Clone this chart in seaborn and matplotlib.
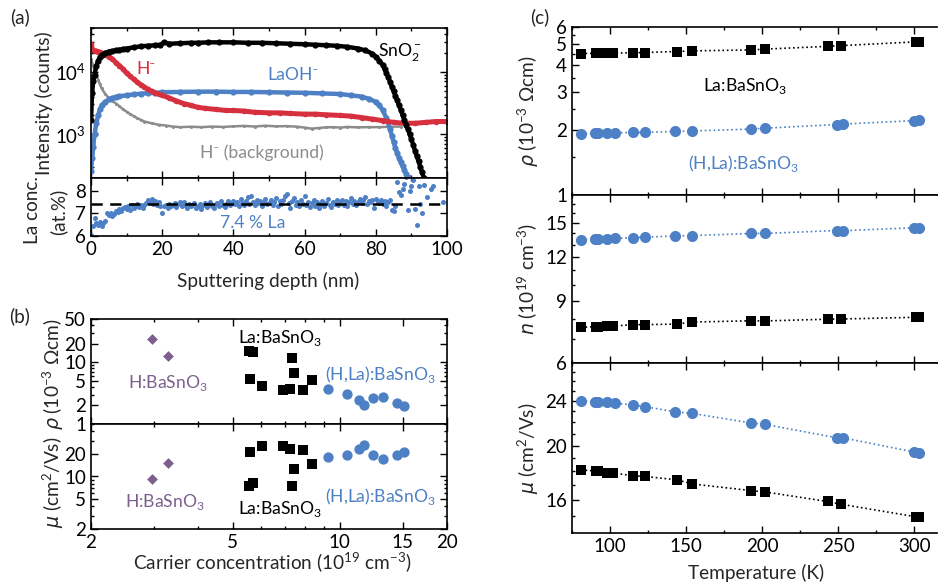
import numpy as np
import pandas as pd
import seaborn as sns
import matplotlib
matplotlib.use('Agg')
from matplotlib import pyplot as plt
from matplotlib import ticker

# %% Data
# (a) SIMS depth profiles, counts vs sputtering depth (nm)
sno2_depth = [0, 0.3, 0.6, 1, 1.5, 2, 2.5, 3, 4, 5, 6, 7, 8, 9, 10, 12, 14, 16, 18,
              19.5, 20.5, 22, 25, 28, 30, 33, 36, 40, 44, 48, 52, 56, 60, 63, 66, 69, 72, 75, 77, 79, 80, 81, 82,
              82.5, 83, 83.5, 84, 84.5, 85, 85.5, 86, 86.5, 87, 87.5, 88, 88.5, 89, 89.5, 90, 90.5, 91, 91.5,
              92, 92.5, 93, 93.5, 94]
sno2_counts = [1700, 4500, 7000, 9000, 12500, 15000, 17000, 18500, 20000, 21000, 21500, 22000, 22500, 23000,
               23500, 24500, 25500, 26000, 26500,
               27000, 29500, 28000, 28500, 29000, 29000, 29500, 29500, 29500, 29000, 29000, 28500, 28000, 27500,
               27000, 26500, 26000, 25000, 23500, 22000, 19500, 17400, 15000, 12600,
               11000, 9500, 8100, 6900, 5800, 4900, 4100, 3500, 2900, 2450, 2050, 1700, 1420, 1200, 1010, 830,
               680, 550, 450, 370, 300, 245, 200, 165]

h_depth = [0, 0.5, 1, 1.5, 2, 2.5, 3, 4, 5, 6, 7, 8, 9, 10, 11, 12, 13, 14, 15, 16, 17, 18, 19, 20,
           22, 24, 26, 28, 30, 32, 35, 38, 40, 43, 46, 50, 53, 56, 60, 63, 66, 70, 73, 76, 79, 82, 85, 88,
           91, 94, 97, 100]
h_counts = [28000, 22000, 21500, 21500, 21000, 20500, 20000, 18500, 17500, 16000, 14000, 12500, 11000, 9500,
            8500, 7600, 6800, 6200, 5700, 5200, 4900, 4600, 4400, 4200,
            3800, 3400, 3100, 2900, 2700, 2600, 2500, 2400, 2400, 2350, 2250, 2200, 2200, 2150, 2100, 2100,
            2050, 2000, 1950, 1850, 1750, 1650, 1550, 1500, 1500, 1550, 1600, 1600]

laoh_depth = [0, 0.3, 0.6, 1, 1.5, 2, 2.5, 3, 4, 5, 6, 7, 8, 10, 12, 14, 16, 18, 20,
              25, 30, 35, 40, 45, 50, 55, 60, 65, 70, 73, 76, 78, 80, 81, 82, 83, 84,
              84.5, 85, 85.5, 86, 86.5, 87, 87.5, 88, 88.5, 89, 89.5]
laoh_counts = [260, 420, 620, 1000, 1500, 2000, 2500, 2900, 3300, 3600, 3800, 3950, 4050, 4200, 4350, 4450,
               4550, 4600, 4700,
               4750, 4800, 4800, 4750, 4750, 4700, 4650, 4600, 4500, 4400, 4200, 4000, 3700, 3300, 2900, 2400,
               1800, 1200,
               950, 750, 600, 500, 420, 360, 310, 270, 235, 205, 180]

bg_depth = [0, 0.5, 1, 1.5, 2, 2.5, 3, 4, 5, 6, 7, 8, 9, 10, 11, 12, 13, 14, 15, 17, 19, 21, 23, 25,
            28, 31, 34, 37, 40, 43, 46, 49, 52, 55, 58, 60, 62, 64, 66, 68, 70, 72, 75, 78, 81, 84, 87]
bg_counts = [16000, 13000, 10500, 8800, 7500, 6300, 5400, 4400, 3800, 3400, 3100, 2800, 2500, 2300, 2100,
             1950, 1800, 1700, 1600, 1500, 1420, 1380, 1330, 1300,
             1320, 1300, 1330, 1310, 1340, 1360, 1330, 1370, 1340, 1350, 1320, 1280, 1230, 1260, 1290, 1300,
             1280, 1310, 1290, 1300, 1300, 1320, 1330]

# La concentration (at.%), 0.5 nm steps from 0 to 84.5 nm, then the scattered tail
la_conc = [6.05, 6.42, 6.78, 6.55, 6.48, 6.62, 6.45, 6.58, 6.65, 7.0, 6.92, 7.02, 6.88, 6.95, 7.12, 7.05, 7.18, 7.1, 7.22, 7.28,
           7.2, 7.3, 7.15, 7.35, 7.25, 7.32, 7.42, 7.28, 7.38, 7.22, 7.35, 7.45, 7.58, 7.5, 7.62, 7.4, 7.55, 7.35, 7.48, 7.3,
           7.02, 7.32, 7.38, 7.25, 7.42, 7.3, 7.35, 7.45, 7.28, 7.4, 7.48, 7.33, 7.5, 7.38, 7.25, 7.42, 7.3, 7.36, 7.47, 7.22,
           7.3, 7.4, 7.2, 7.35, 7.45, 7.28, 7.38, 7.5, 7.32, 7.25, 7.4, 7.46, 7.3, 7.55, 7.38, 7.28, 7.42, 7.52, 7.35, 7.45,
           7.55, 7.4, 7.48, 7.3, 7.62, 7.45, 7.38, 7.55, 7.7, 7.42, 7.74, 7.5, 7.35, 7.6, 7.45, 7.52, 7.3, 7.48, 7.62, 7.4,
           7.45, 7.58, 7.35, 7.5, 7.65, 7.3, 7.52, 7.42, 7.6, 7.78, 7.86, 7.45, 7.25, 7.55, 7.68, 7.38, 7.5, 7.3, 7.6, 7.42,
           7.74, 7.35, 7.5, 7.28, 7.45, 7.6, 7.32, 7.48, 7.25, 7.4, 7.55, 7.3, 7.45, 7.62, 7.38, 7.28, 7.5, 7.42, 7.58, 7.35,
           7.45, 7.6, 7.38, 7.52, 7.3, 7.48, 7.65, 7.42, 7.55, 7.35, 7.5, 7.62, 7.45, 7.58, 7.7, 7.4, 7.52, 7.48, 7.6, 7.22,
           7.62, 7.5, 7.45, 7.58, 7.4, 7.55, 7.3, 7.48, 7.6, 7.15]
la_depth = list(np.arange(0, 85, 0.5))
la_tail_depth = [85, 85.5, 86, 86.5, 87, 87.5, 88, 88.5, 89, 89.5, 90, 90.5, 91, 91.5, 92, 92.5, 93, 93.5,
                 94.5, 95.5, 96, 99]
la_tail_conc = [7.12, 7.3, 8.36, 7.95, 7.8, 8.07, 8.3, 8.58, 7.13, 8.0, 8.2, 8.45, 7.2, 6.48, 8.2, 7.42, 7.0,
                8.25, 7.7, 8.07, 8.2, 7.49]
la_mean = 7.4

# (b) resistivity (1e-3 Ohm cm) and mobility (cm2/Vs) vs carrier concentration (1e19 cm-3)
h_n = [2.96, 3.30]
h_rho = [23.8, 12.7]
h_mu = [9.2, 15.3]
la_n = [5.57, 5.69, 5.60, 6.03, 6.91, 7.24, 7.34, 7.42, 7.88, 8.34]
la_rho = [15.3, 14.4, 5.4, 4.09, 3.61, 3.7, 11.5, 6.78, 3.52, 5.13]
la_mu = [7.55, 8.1, 21.0, 25.7, 25.5, 23.4, 7.55, 12.6, 22.7, 14.7]
hla_n = [9.24, 10.45, 11.34, 11.69, 12.42, 13.22, 14.47, 15.1]
hla_rho = [3.75, 3.1, 2.41, 2.02, 2.64, 2.74, 2.21, 1.92]
hla_mu = [18.0, 19.2, 23.0, 26.2, 19.2, 17.1, 19.2, 21.4]

# (c) temperature dependence
T_la = [81, 91, 92, 98, 102, 115, 123, 144, 154, 193, 202, 243, 252, 301, 303]
rho_la_T = [4.52, 4.53, 4.53, 4.53, 4.54, 4.56, 4.57, 4.62, 4.65, 4.70, 4.74, 4.88, 4.92, 5.12, 5.13]
n_la_T = [7.58, 7.61, 7.61, 7.64, 7.64, 7.71, 7.71, 7.74, 7.84, 7.91, 7.90, 7.99, 8.0, 8.09, 8.08]
mu_la_T = [18.1, 18.03, 18.0, 17.89, 17.89, 17.68, 17.63, 17.39, 17.1, 16.64, 16.55, 15.92, 15.74, 14.96, 14.93]
T_hla = [81, 90, 92, 98, 103, 115, 123, 143, 154, 193, 202, 249, 253, 300, 303]
rho_hla_T = [1.92, 1.93, 1.93, 1.94, 1.94, 1.95, 1.95, 1.97, 1.98, 2.02, 2.04, 2.12, 2.13, 2.21, 2.22]
n_hla_T = [13.45, 13.5, 13.5, 13.53, 13.56, 13.62, 13.65, 13.78, 13.8, 14.0, 14.0, 14.27, 14.25, 14.53, 14.53]
mu_hla_T = [24.0, 23.9, 23.9, 23.87, 23.77, 23.6, 23.43, 22.95, 22.8, 21.92, 21.8, 20.64, 20.64, 19.48, 19.37]

# %% Style
BLACK = '#000000'
RED = '#D6303F'
BLUE = '#4D80C4'
GRAY = '#8C8C8C'
PURPLE = '#7D5E8C'

sns.set_style('ticks')
plt.rcParams['font.family'] = ['Lato', 'DejaVu Sans']
plt.rcParams['mathtext.fontset'] = 'custom'
plt.rcParams['mathtext.rm'] = 'Lato'
plt.rcParams['mathtext.it'] = 'DejaVu Sans:italic'
plt.rcParams['mathtext.bf'] = 'Lato:bold'
FS = 13.7   # axis labels
AS = 12.6   # in-plot annotations
TS = 13.5   # tick labels

W, H = 944, 584


def box(l, t, r, b):
    return [l / W, 1 - b / H, (r - l) / W, (b - t) / H]


def style(ax, right=True):
    ax.tick_params(which='both', direction='in', top=True, right=right, labelsize=TS, width=1, colors='black')
    ax.tick_params(which='major', length=5)
    ax.tick_params(which='minor', length=2.5)
    for s in ax.spines.values():
        s.set_linewidth(1.2)
        s.set_color('black')
    if not right:
        ax.spines['right'].set_visible(False)
    ax.set_xlabel('')
    ax.set_ylabel('')


fig = plt.figure(figsize=(9.44, 5.84), dpi=100)
ax_a1 = fig.add_axes(box(91, 28, 447, 178))
ax_a2 = fig.add_axes(box(91, 178, 447, 236))
ax_b1 = fig.add_axes(box(91, 319, 447, 424))
ax_b2 = fig.add_axes(box(91, 424, 447, 529))
ax_c1 = fig.add_axes(box(572, 27, 937, 195))
ax_c2 = fig.add_axes(box(572, 195, 937, 363))
ax_c3 = fig.add_axes(box(572, 363, 937, 533))

# %% (a) depth profile
ax_a1.set_yscale('log')
sns.lineplot(x=bg_depth, y=bg_counts, ax=ax_a1, color=GRAY, lw=1.8, marker='o', markersize=2.2, markeredgewidth=0)
sns.lineplot(x=laoh_depth, y=laoh_counts, ax=ax_a1, color=BLUE, lw=3.2, marker='o', markersize=4.5, markeredgewidth=0)
sns.lineplot(x=h_depth, y=h_counts, ax=ax_a1, color=RED, lw=3.6, marker='o', markersize=4, markeredgewidth=0)
sns.lineplot(x=sno2_depth, y=sno2_counts, ax=ax_a1, color=BLACK, lw=3.2, marker='o', markersize=4.5, markeredgewidth=0)
ax_a1.set_xlim(0, 100)
ax_a1.set_ylim(200, 50000)
ax_a1.xaxis.set_major_locator(ticker.MultipleLocator(20))
ax_a1.xaxis.set_minor_locator(ticker.MultipleLocator(10))
ax_a1.yaxis.set_minor_formatter(ticker.NullFormatter())
style(ax_a1)
ax_a1.tick_params(labelbottom=False)
ax_a1.text(0.806, 0.84, r'SnO$_2^-$', transform=ax_a1.transAxes, color=BLACK, fontsize=AS, ha='left', va='center')
ax_a1.text(0.155, 0.73, 'H⁻', transform=ax_a1.transAxes, color=RED, fontsize=AS, ha='center', va='center')
ax_a1.text(0.567, 0.69, 'LaOH⁻', transform=ax_a1.transAxes, color=BLUE, fontsize=AS, ha='center', va='center')
ax_a1.text(0.48, 0.17, 'H⁻ (background)', transform=ax_a1.transAxes, color=GRAY, fontsize=AS,
           ha='center', va='center')

sns.scatterplot(x=la_depth + la_tail_depth, y=la_conc + la_tail_conc, ax=ax_a2, color=BLUE, s=13, linewidth=0)
ax_a2.axhline(la_mean, color='black', lw=1.8, ls=(0, (4.5, 3)))
ax_a2.set_xlim(0, 100)
ax_a2.set_ylim(6, 8.55)
ax_a2.xaxis.set_major_locator(ticker.MultipleLocator(20))
ax_a2.xaxis.set_minor_locator(ticker.MultipleLocator(10))
ax_a2.yaxis.set_major_locator(ticker.FixedLocator([6, 7, 8]))
style(ax_a2)
ax_a2.text(0.455, 0.22, '7.4 % La', transform=ax_a2.transAxes, color=BLUE, fontsize=AS, ha='center', va='center')

# %% (b) rho and mu vs n
for ax, y_h, y_la, y_hla in [(ax_b1, h_rho, la_rho, hla_rho), (ax_b2, h_mu, la_mu, hla_mu)]:
    ax.set_xscale('log')
    ax.set_yscale('log')
    sns.scatterplot(x=h_n, y=y_h, ax=ax, color=PURPLE, marker='D', s=30, linewidth=0)
    sns.scatterplot(x=la_n, y=y_la, ax=ax, color=BLACK, marker='s', s=42, linewidth=0)
    sns.scatterplot(x=hla_n, y=y_hla, ax=ax, color=BLUE, marker='o', s=55, linewidth=0)
    ax.set_xlim(2, 20)
    ax.xaxis.set_major_locator(ticker.FixedLocator([2, 5, 10, 15, 20]))
    ax.xaxis.set_major_formatter(ticker.FormatStrFormatter('%g'))
    ax.xaxis.set_minor_locator(ticker.LogLocator(subs=[1, 2, 3, 4, 5, 6, 7, 8, 9]))
    ax.xaxis.set_minor_formatter(ticker.NullFormatter())
    ax.yaxis.set_major_formatter(ticker.FormatStrFormatter('%g'))
    ax.yaxis.set_minor_locator(ticker.LogLocator(subs=[1, 2, 3, 4, 5, 6, 7, 8, 9]))
    ax.yaxis.set_minor_formatter(ticker.NullFormatter())
    style(ax)

ax_b1.set_ylim(1, 50)
ax_b1.yaxis.set_major_locator(ticker.FixedLocator([1, 2, 5, 10, 20, 50]))
ax_b1.tick_params(labelbottom=False)
ax_b2.set_ylim(2, 50)
ax_b2.yaxis.set_major_locator(ticker.FixedLocator([2, 5, 10, 20]))

ax_b1.text(0.413, 0.82, r'La:BaSnO$_3$', transform=ax_b1.transAxes, color=BLACK, fontsize=AS, ha='left', va='center')
ax_b1.text(0.104, 0.39, r'H:BaSnO$_3$', transform=ax_b1.transAxes, color=PURPLE, fontsize=AS, ha='left', va='center')
ax_b1.text(0.657, 0.47, r'(H,La):BaSnO$_3$', transform=ax_b1.transAxes, color=BLUE, fontsize=AS, ha='left', va='center')
ax_b2.text(0.096, 0.26, r'H:BaSnO$_3$', transform=ax_b2.transAxes, color=PURPLE, fontsize=AS, ha='left', va='center')
ax_b2.text(0.413, 0.19, r'La:BaSnO$_3$', transform=ax_b2.transAxes, color=BLACK, fontsize=AS, ha='left', va='center')
ax_b2.text(0.657, 0.31, r'(H,La):BaSnO$_3$', transform=ax_b2.transAxes, color=BLUE, fontsize=AS, ha='left', va='center')

# %% (c) temperature dependence
panels_c = [
    (ax_c1, rho_la_T, rho_hla_T, (1, 6), [1, 2, 3, 4, 5, 6], [1.5, 2.5, 3.5, 4.5, 5.5]),
    (ax_c2, n_la_T, n_hla_T, (6, 18), [6, 9, 12, 15], [7, 8, 10, 11, 13, 14, 16, 17]),
    (ax_c3, mu_la_T, mu_hla_T, (14, 28), [16, 20, 24], [15, 17, 18, 19, 21, 22, 23, 25, 26, 27]),
]
for ax, y_la, y_hla, ylim, major, minor in panels_c:
    ax.set_yscale('log')
    sns.lineplot(x=T_hla, y=y_hla, ax=ax, color=BLUE, lw=1.2, ls=':', marker='o', markersize=8,
                 markeredgewidth=0)
    sns.lineplot(x=T_la, y=y_la, ax=ax, color=BLACK, lw=1.2, ls=':', marker='s', markersize=7,
                 markeredgewidth=0)
    ax.set_xlim(75, 315)
    ax.set_ylim(*ylim)
    ax.xaxis.set_major_locator(ticker.MultipleLocator(50))
    ax.xaxis.set_minor_locator(ticker.MultipleLocator(25))
    ax.yaxis.set_major_locator(ticker.FixedLocator(major))
    ax.yaxis.set_minor_locator(ticker.FixedLocator(minor))
    ax.yaxis.set_major_formatter(ticker.FormatStrFormatter('%g'))
    ax.yaxis.set_minor_formatter(ticker.NullFormatter())
    style(ax, right=False)
ax_c1.tick_params(labelbottom=False)
ax_c2.tick_params(labelbottom=False)

ax_c1.text(0.359, 0.65, r'La:BaSnO$_3$', transform=ax_c1.transAxes, color=BLACK, fontsize=AS, ha='left', va='center')
ax_c1.text(0.318, 0.19, r'(H,La):BaSnO$_3$', transform=ax_c1.transAxes, color=BLUE, fontsize=AS, ha='left', va='center')

# %% Axis labels and panel tags
def ftext(px, py, s, **kw):
    fig.text(px / W, 1 - py / H, s, fontsize=FS, ha='center', va='center', **kw)


ftext(44, 103, 'Intensity (counts)', rotation=90)
ftext(33, 210, 'La conc.', rotation=90)
ftext(58, 212, '(at.%)', rotation=90)
ftext(268, 281, 'Sputtering depth (nm)')
ftext(53, 374, r'$\rho$ (10$^{-3}$ $\Omega$cm)', rotation=90)
ftext(53, 482, r'$\mu$ (cm$^2$/Vs)', rotation=90)
ftext(272, 563, r'Carrier concentration (10$^{19}$ cm$^{-3}$)')
ftext(528, 111, r'$\rho$ (10$^{-3}$ $\Omega$cm)', rotation=90)
ftext(528, 279, r'$n$ (10$^{19}$ cm$^{-3}$)', rotation=90)
ftext(528, 448, r'$\mu$ (cm$^2$/Vs)', rotation=90)
ftext(756, 573, 'Temperature (K)')
ftext(20, 17, '(a)')
ftext(20, 316, '(b)')
ftext(540, 17, '(c)')

fig.savefig('out.png', dpi=100)
